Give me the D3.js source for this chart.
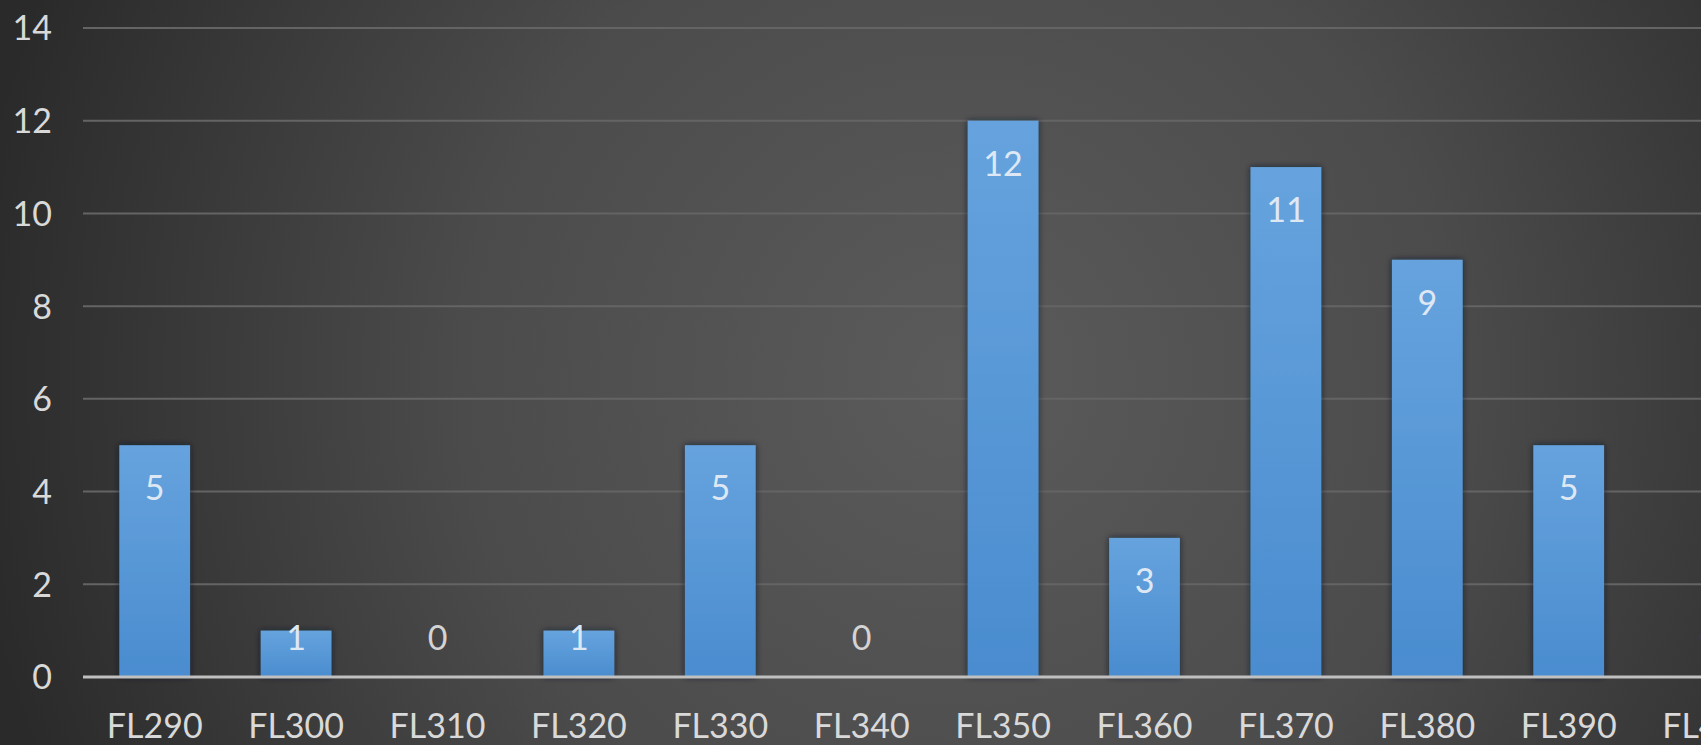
<!DOCTYPE html>
<html><head><meta charset="utf-8">
<script src="https://cdn.jsdelivr.net/npm/d3@7"></script>
<style>html,body{margin:0;padding:0;overflow:hidden;background:#333;}svg{display:block;}</style>
</head><body>
<script>
const categories = ["FL290","FL300","FL310","FL320","FL330","FL340","FL350","FL360","FL370","FL380","FL390","FL400"];
const values = [5,1,0,1,5,0,12,3,11,9,5,0];
const yTicks = [0,2,4,6,8,10,12,14];

const W = 1701, H = 745;
const svg = d3.select("body").append("svg").attr("width", W).attr("height", H);
const defs = svg.append("defs");
const bg = defs.append("radialGradient").attr("id","bg").attr("gradientUnits","userSpaceOnUse")
  .attr("cx",960).attr("cy",380).attr("r",1000);
bg.append("stop").attr("offset",0).attr("stop-color","#5b5b5b");
bg.append("stop").attr("offset",0.5).attr("stop-color","#4b4b4b");
bg.append("stop").attr("offset",1).attr("stop-color","#2a2a2a");
const bar = defs.append("linearGradient").attr("id","bar").attr("x1",0).attr("y1",0).attr("x2",0).attr("y2",1);
bar.append("stop").attr("offset",0).attr("stop-color","#66a3de");
bar.append("stop").attr("offset",1).attr("stop-color","#4a8ccf");
const f = defs.append("filter").attr("id","sh").attr("x","-30%").attr("y","-30%").attr("width","160%").attr("height","160%");
f.append("feDropShadow").attr("dx",0).attr("dy",0).attr("stdDeviation",3).attr("flood-color","#0b1a2a").attr("flood-opacity",0.8);

svg.append("rect").attr("width",W).attr("height",H).attr("fill","url(#bg)");

const step = 141.4, x0 = 84;
const x = d3.scaleBand().domain(categories).range([x0, x0 + step*categories.length]).paddingInner(0.5).paddingOuter(0.25);
const y = d3.scaleLinear().domain([0,14]).range([677, 28]);

const font = "Lato, 'Open Sans', sans-serif";

// gridlines
svg.append("g").selectAll("line").data(yTicks.filter(d=>d>0)).join("line")
  .attr("x1",83).attr("x2",W).attr("y1",d=>y(d)).attr("y2",d=>y(d))
  .attr("stroke","#646464").attr("stroke-width",2);

// y axis labels
const yAxis = d3.axisLeft(y).tickValues(yTicks).tickSize(0).tickPadding(0);
const gy = svg.append("g").attr("transform","translate(52,0)").call(yAxis);
gy.select(".domain").remove();
gy.selectAll("text").attr("font-family",font).attr("font-size",34).attr("fill","#d9d9d9").attr("dy","0.35em");

// bars
svg.append("g").selectAll("rect").data(values).join("rect")
  .attr("x",(d,i)=>x(categories[i])).attr("width",x.bandwidth())
  .attr("y",d=>y(d)).attr("height",d=>y(0)-y(d))
  .attr("fill","url(#bar)").attr("filter","url(#sh)")
  .style("display",d=>d>0?null:"none");

// baseline
svg.append("line").attr("x1",83).attr("x2",W).attr("y1",y(0)).attr("y2",y(0))
  .attr("stroke","#c0c0c0").attr("stroke-width",3);

// data labels
svg.append("g").selectAll("text").data(values).join("text")
  .attr("x",(d,i)=>x(categories[i])+x.bandwidth()/2)
  .attr("y",d=> Math.min(y(d)+43, y(0)-39))
  .attr("dy","0.35em").attr("text-anchor","middle")
  .attr("font-family",font).attr("font-size",34)
  .attr("fill",d=>d>0?"#dde8f4":"#d4d4d4")
  .text(d=>d);

// x axis labels
const xAxis = d3.axisBottom(x).tickSize(0).tickPadding(0);
const gx = svg.append("g").attr("transform","translate(0,738)").call(xAxis);
gx.select(".domain").remove();
gx.selectAll("text").attr("font-family",font).attr("font-size",34).attr("fill","#d9d9d9").attr("dy",0);
</script>
</body></html>
